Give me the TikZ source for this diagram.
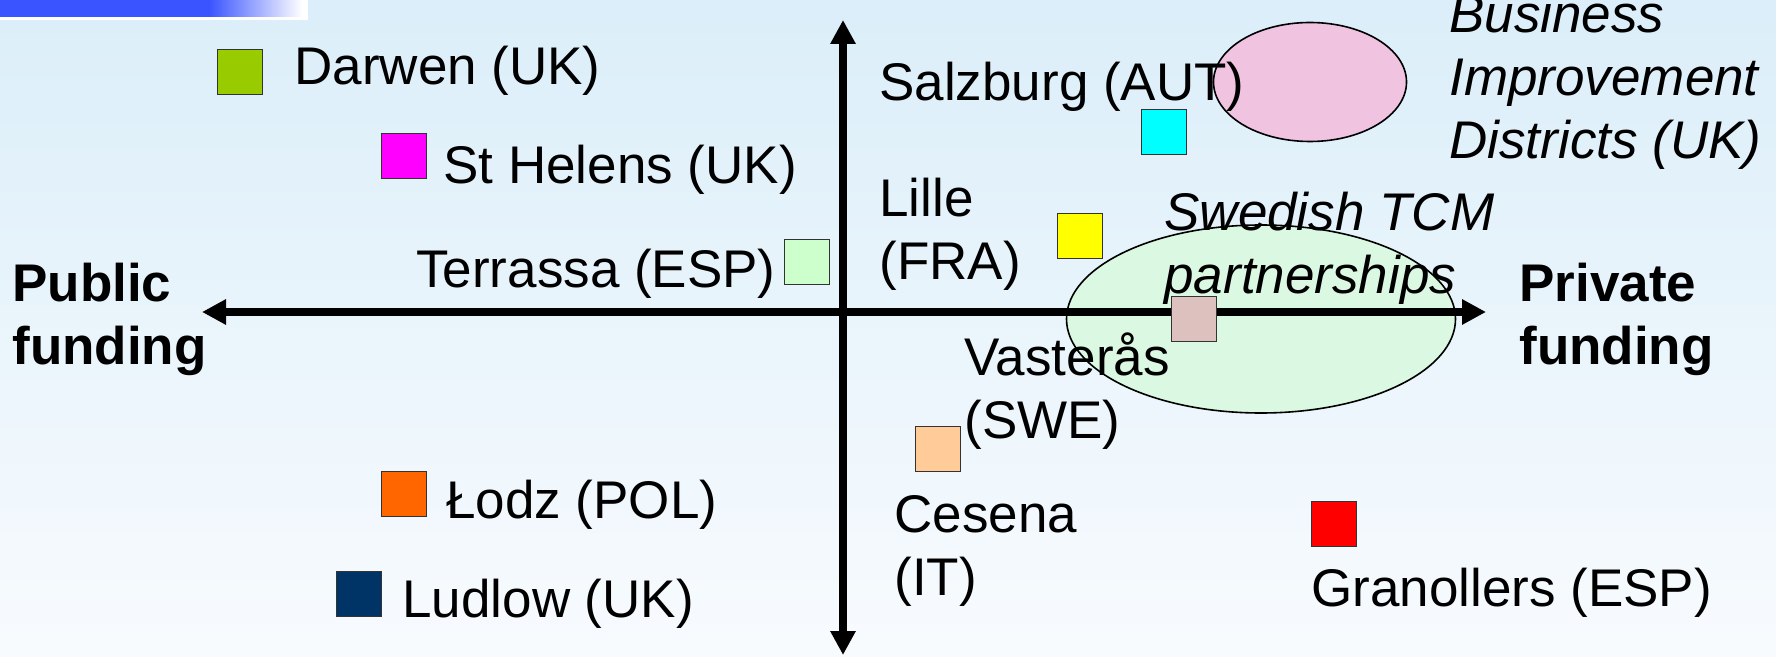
\documentclass[tikz,border=0pt]{standalone}
\usepackage{fontspec}
\setmainfont{Liberation Sans}
\usetikzlibrary{arrows.meta,shapes.geometric}
\definecolor{bgtop}{HTML}{DBEEF9}
\definecolor{bgbot}{HTML}{F8FBFE}
\definecolor{barblue}{HTML}{3A55FF}
\definecolor{bidpink}{HTML}{F0C3E0}
\definecolor{tcmgreen}{HTML}{DBF8E2}
\definecolor{cDarwen}{HTML}{99CC00}
\definecolor{cHelens}{HTML}{FF00FF}
\definecolor{cTerrassa}{HTML}{CCFFCC}
\definecolor{cSalzburg}{HTML}{00FFFF}
\definecolor{cLille}{HTML}{FFFF00}
\definecolor{cVasteras}{HTML}{DDC1BF}
\definecolor{cCesena}{HTML}{FFCC99}
\definecolor{cLodz}{HTML}{FF6600}
\definecolor{cLudlow}{HTML}{003366}
\definecolor{cGranollers}{HTML}{FF0000}
\newcommand\lblfont{\fontsize{26.5}{31.5}\selectfont}
\newcommand\lines[1]{\begin{tabular}[t]{@{}l@{}}#1\end{tabular}}
\tikzset{
  sq/.style={draw=black!80, line width=0.9pt, minimum size=22.5pt, inner sep=0pt, outer sep=0pt},
  lbl/.style={font=\lblfont, inner sep=0pt, anchor=base west},
  zone/.style={ellipse, draw=black, line width=0.8pt, inner sep=0pt},
  axis/.style={line width=3.6pt, {Triangle[length=12pt,width=12pt]}-{Triangle[length=12pt,width=12pt]}}
}
\begin{document}
\begin{tikzpicture}[x=0.5pt,y=-0.5pt]
\useasboundingbox (0,0) rectangle (1776,657);
% background
\shade[top color=bgtop,bottom color=bgbot] (0,0) rectangle (1776,657);
% title bar in the corner
\fill[white] (0,0) rectangle (308,20);
\fill[barblue] (0,0) rectangle (210,17);
\shade[left color=barblue,right color=white] (209,0) rectangle (302,17);

% zones
\node[zone, fill=bidpink, minimum width=96.5pt, minimum height=59.5pt] (bidZone) at (1310,82) {};
\node[zone, fill=tcmgreen, minimum width=194.5pt, minimum height=94pt] (tcmZone) at (1261,319) {};

% axes
\coordinate (axL) at (202,312);
\coordinate (axR) at (1486,312);
\coordinate (axT) at (843,20);
\coordinate (axB) at (843,655);
\draw[axis] (axL) -- (axR);
\draw[axis] (axT) -- (axB);

% towns
\node[sq, fill=cDarwen] (sqDarwen) at (240,72) {};
\node[sq, fill=cHelens] (sqHelens) at (404,156) {};
\node[sq, fill=cTerrassa] (sqTerrassa) at (807,262) {};
\node[sq, fill=cSalzburg] (sqSalzburg) at (1164,132) {};
\node[sq, fill=cLille] (sqLille) at (1080,236) {};
\node[sq, fill=cVasteras] (sqVasteras) at (1194,319) {};
\node[sq, fill=cCesena] (sqCesena) at (938,449) {};
\node[sq, fill=cLodz] (sqLodz) at (404,494) {};
\node[sq, fill=cLudlow] (sqLudlow) at (359,594) {};
\node[sq, fill=cGranollers] (sqGranollers) at (1334,524) {};

% labels
\node[lbl] (tDarwen) at (294,85) {Darwen (UK)};
\node[lbl] (tHelens) at (443,184) {St Helens (UK)};
\node[lbl, anchor=base east] (tTerrassa) at (776,288) {Terrassa (ESP)};
\node[lbl] (tSalzburg) at (879,101) {Salzburg (AUT)};
\node[lbl] (tLille) at (879,217) {\lines{Lille\\(FRA)}};
\node[lbl] (tVasteras) at (964,376) {\lines{Vasterås\\(SWE)}};
\node[lbl] (tCesena) at (894,532) {\lines{Cesena\\(IT)}};
\node[lbl] (tLodz) at (446,518) {Łodz (POL)};
\node[lbl] (tLudlow) at (402,617) {Ludlow (UK)};
\node[lbl] (tGranollers) at (1311,606) {Granollers (ESP)};
\node[lbl, font=\lblfont\itshape] (tTCM) at (1164,231) {\lines{Swedish TCM\\partnerships}};
\node[lbl, font=\lblfont\itshape] (tBID) at (1449,33) {\lines{Business\\Improvement\\Districts (UK)}};
\node[lbl, font=\lblfont\bfseries] (tPublic) at (12,302) {\lines{Public\\funding}};
\node[lbl, font=\lblfont\bfseries] (tPrivate) at (1519,302) {\lines{Private\\funding}};
\end{tikzpicture}
\end{document}
